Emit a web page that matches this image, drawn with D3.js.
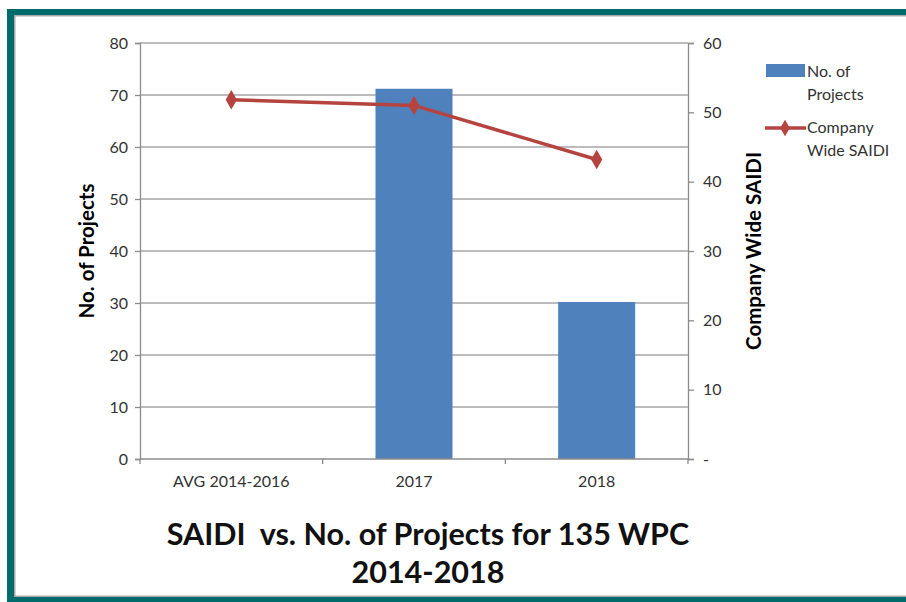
<!DOCTYPE html>
<html><head><meta charset="utf-8">
<script src="https://cdn.jsdelivr.net/npm/d3@7"></script>
<style>body{margin:0;background:#fff}svg{display:block}</style>
</head><body>
<svg id="c" width="906" height="602"></svg>
<script>
const categories = ["AVG 2014-2016", "2017", "2018"];
const projects = [null, 71.2, 30.2];
const saidi = [51.8, 51, 43.2];
const leftTicks = [0,10,20,30,40,50,60,70,80];
const rightTicks = [0,10,20,30,40,50,60];

const svg = d3.select("#c");
const font = "Lato, 'Open Sans', sans-serif";
// frame
svg.append("rect").attr("x",0).attr("y",0).attr("width",906).attr("height",602).attr("fill","#fff");
svg.append("rect").attr("x",7).attr("y",9).attr("width",899).attr("height",6).attr("fill","#006B6B");
svg.append("rect").attr("x",7).attr("y",9).attr("width",7).attr("height",593).attr("fill","#006B6B");
svg.append("rect").attr("x",7).attr("y",597).attr("width",899).attr("height",5).attr("fill","#006B6B");
svg.append("rect").attr("x",14).attr("y",15).attr("width",892).attr("height",1.5).attr("fill","#aaa");
svg.append("rect").attr("x",14).attr("y",15).attr("width",1.5).attr("height",582).attr("fill","#aaa");
svg.append("rect").attr("x",14).attr("y",595.5).attr("width",892).attr("height",1.5).attr("fill","#aaa");

const L = 140, R = 688, T = 43, B = 459;
const x = d3.scaleBand().domain(categories).range([L, R]);
const yL = d3.scaleLinear().domain([0, 80]).range([B, T]);
const yR = d3.scaleLinear().domain([0, 60]).range([B, T]);

// gridlines
svg.append("g").selectAll("line").data(leftTicks.filter(d=>d>0)).join("line")
  .attr("x1", L).attr("x2", R).attr("y1", d=>yL(d)).attr("y2", d=>yL(d))
  .attr("stroke", "#a6a6a6").attr("stroke-width", 1.3);

// bars
const bw = 77;
svg.append("g").selectAll("rect").data(categories.map((c,i)=>({c, v:projects[i]})).filter(d=>d.v!=null)).join("rect")
  .attr("x", d=>x(d.c)+x.bandwidth()/2-bw/2).attr("width", bw)
  .attr("y", d=>yL(d.v)).attr("height", d=>B-yL(d.v))
  .attr("fill", "#4F81BD");

// axes
const gL = svg.append("g").attr("transform",`translate(${L},0)`)
  .call(d3.axisLeft(yL).tickValues(leftTicks).tickSize(5).tickPadding(7));
const gR = svg.append("g").attr("transform",`translate(${R},0)`)
  .call(d3.axisRight(yR).tickValues(rightTicks).tickSize(6).tickPadding(9).tickFormat(d=>d===0?"-":d));
const gX = svg.append("g").attr("transform",`translate(0,${B})`)
  .call(d3.axisBottom(x).tickSize(0).tickPadding(17));
gX.selectAll(".tick line").remove();
const bounds = categories.map(c=>x(c)).concat([R]);
gX.selectAll("line.b").data(bounds).join("line").attr("class","b")
  .attr("x1", d=>d).attr("x2", d=>d).attr("y1", 0).attr("y2", 5).attr("stroke","#8c8c8c").attr("stroke-width",1.3);
[gL,gR,gX].forEach(g=>{
  g.select(".domain").attr("stroke","#8c8c8c").attr("stroke-width",1.3);
  g.selectAll(".tick line").attr("stroke","#8c8c8c").attr("stroke-width",1.3);
  g.selectAll("text").attr("font-family", font).attr("font-size", 16).attr("fill","#333");
});
gX.select(".domain").attr("d", `M${L},0H${R}`);

// line
const pts = categories.map((c,i)=>[x(c)+x.bandwidth()/2, yR(saidi[i])]);
svg.append("path").attr("d", d3.line()(pts)).attr("fill","none")
  .attr("stroke","#B5443F").attr("stroke-width",3.5);
svg.append("g").selectAll("path").data(pts).join("path")
  .attr("transform", d=>`translate(${d[0]},${d[1]})`)
  .attr("d", d3.symbol(d3.symbolDiamond, 110)()).attr("fill","#B5443F");

// axis titles
svg.append("text").attr("transform","translate(94,251) rotate(-90)").attr("text-anchor","middle")
  .attr("font-family",font).attr("font-weight","bold").attr("font-size",20.5).text("No. of Projects");
svg.append("text").attr("transform","translate(761,251) rotate(-90)").attr("text-anchor","middle")
  .attr("font-family",font).attr("font-weight","bold").attr("font-size",20.5).text("Company Wide SAIDI");

// legend
const lg = svg.append("g").attr("font-family",font).attr("font-size",16).attr("fill","#333");
lg.append("rect").attr("x",766).attr("y",64).attr("width",39).attr("height",13).attr("fill","#4F81BD");
lg.append("text").attr("x",807).attr("y",77).text("No. of");
lg.append("text").attr("x",807).attr("y",100).text("Projects");
lg.append("line").attr("x1",765).attr("x2",806).attr("y1",128).attr("y2",128).attr("stroke","#B5443F").attr("stroke-width",3.5);
lg.append("path").attr("transform","translate(785,128)").attr("d", d3.symbol(d3.symbolDiamond, 80)()).attr("fill","#B5443F");
lg.append("text").attr("x",807).attr("y",133).text("Company");
lg.append("text").attr("x",807).attr("y",156).text("Wide SAIDI");

// title
const tt = svg.append("text").attr("text-anchor","middle").attr("font-family",font)
  .attr("font-weight","bold").attr("font-size",30.5).attr("fill","#111");
tt.append("tspan").attr("x",428).attr("y",545).attr("xml:space","preserve").text("SAIDI  vs. No. of Projects for 135 WPC");
tt.append("tspan").attr("x",428).attr("y",583).text("2014-2018");
</script>
</body></html>
